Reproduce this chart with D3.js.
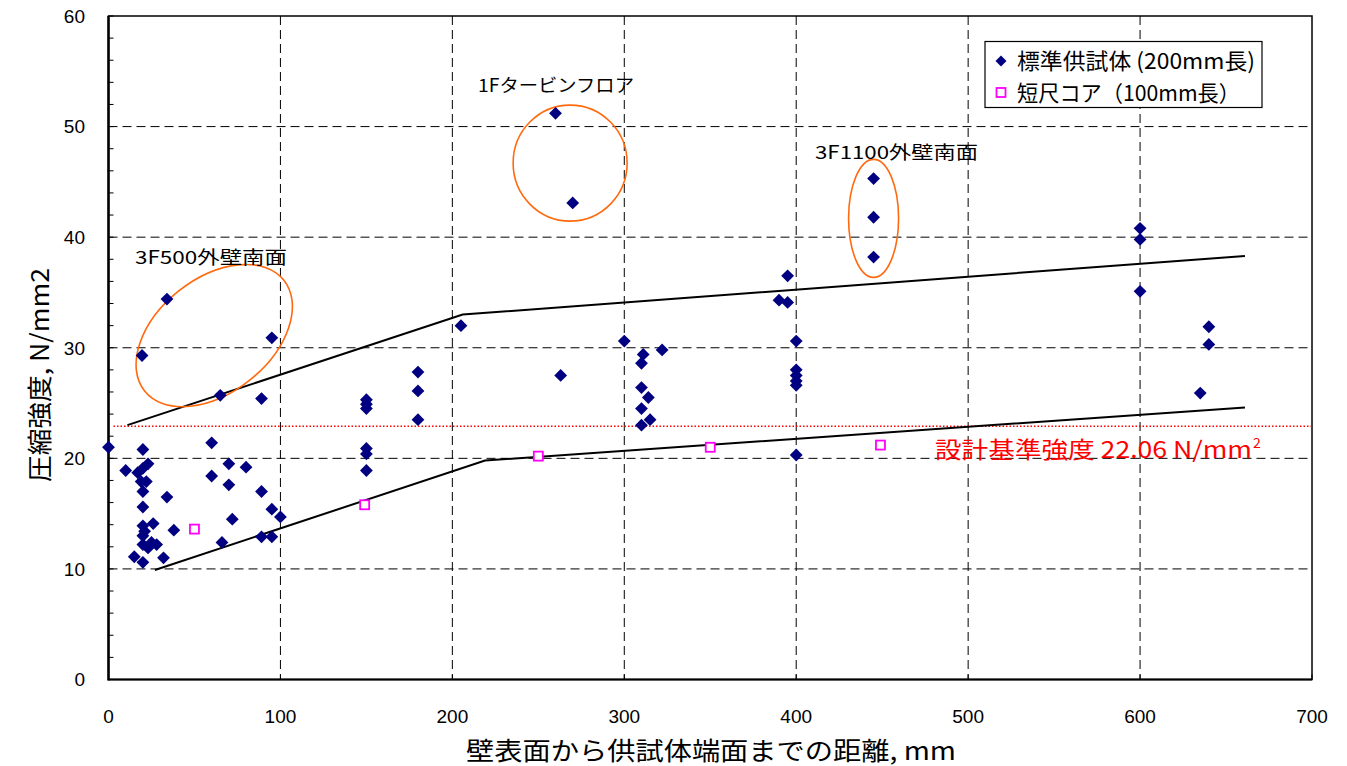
<!DOCTYPE html>
<html><head><meta charset="utf-8">
<script src="https://cdn.jsdelivr.net/npm/d3@7"></script>
<style>
html,body{margin:0;padding:0;background:#fff;}
text{font-family:"Liberation Sans","Noto Sans CJK JP",sans-serif;}
.jp{font-family:"Noto Sans CJK JP","Liberation Sans",sans-serif;}
</style></head>
<body>
<svg id="c" width="1347" height="766"></svg>
<script>
// ---------- data ----------
const xTicks = [0,100,200,300,400,500,600,700];
const yTicks = [0,10,20,30,40,50,60];
const stdX = [0,20,10,17,20,23,19,22,20,20,20,26,21,20,20,23,25,28,15,20,32,34,38,60,60,70,70,80,72,66,89,89,95,95,100,
  34,19.5,95,65,89,
  150,150,150,150,150,150,180,180,180,205,260,270,263,
  300,322,311,310,310,314,310,315,310,
  395,390,395,400,400,400,400,400,400,
  445,445,445,
  600,600,600,640,640,635];
const stdY = [21.0,20.8,18.9,18.7,19.1,19.5,17.9,17.9,17.0,15.6,13.9,14.1,13.4,13.0,12.2,11.9,12.4,12.2,11.1,10.6,11.0,16.5,13.5,21.4,18.4,19.5,17.6,19.2,14.5,12.4,17.0,12.9,12.9,15.4,14.7,
  34.4,29.3,30.9,25.7,25.4,
  25.3,24.9,24.5,20.9,20.4,18.9,27.8,26.1,23.5,32.0,51.2,43.1,27.5,
  30.6,29.8,29.4,28.6,26.4,25.5,24.5,23.5,23.0,
  36.5,34.3,34.1,30.6,28.0,27.5,27.0,26.6,20.3,
  45.3,41.8,38.2,
  40.8,39.8,35.1,31.9,30.3,25.9];
const shortX = [50,149,250,350,449];
const shortY = [13.6,15.8,20.2,21.0,21.2];
const upperX = [11,206,661];
const upperY = [23.0,33.0,38.3];
const lowerX = [27,219,661];
const lowerY = [9.9,19.8,24.6];
const designValue = 22.9;
const designLabel = "設計基準強度 22.06 N/mm";
const seriesNames = ["標準供試体 (200mm長)","短尺コア（100mm長）"];
const groupNames = ["3F500外壁南面","1Fタービンフロア","3F1100外壁南面"];
const groupCx = [61.5,268.5,445];
const groupCy = [31.1,46.7,41.7];

// ---------- layout ----------
const L=108.5, R=1312, T=16, B=679.5;
const svg = d3.select("#c");
const x = d3.scaleLinear().domain([0,700]).range([L,R]);
const y = d3.scaleLinear().domain([0,60]).range([B,T]);

// gridlines
svg.append("g").selectAll("line").data(yTicks.filter(d=>d>0&&d<60)).join("line")
  .attr("x1",L).attr("x2",R).attr("y1",d=>y(d)).attr("y2",d=>y(d))
  .attr("stroke","#000").attr("stroke-width",1).attr("stroke-dasharray","9,5");
svg.append("g").selectAll("line").data(xTicks.filter(d=>d>0&&d<700)).join("line")
  .attr("y1",T).attr("y2",B).attr("x1",d=>x(d)).attr("x2",d=>x(d))
  .attr("stroke","#000").attr("stroke-width",1).attr("stroke-dasharray","9,5");

// minor ticks on y
const minor = d3.range(0,61,2);
svg.append("g").selectAll("line").data(minor).join("line")
  .attr("x1",L).attr("x2",L+5).attr("y1",d=>y(d)).attr("y2",d=>y(d))
  .attr("stroke","#000").attr("stroke-width",1);
svg.append("g").selectAll("line").data(xTicks).join("line")
  .attr("y1",B).attr("y2",B-5).attr("x1",d=>x(d)).attr("x2",d=>x(d))
  .attr("stroke","#000").attr("stroke-width",1);

// frame
svg.append("rect").attr("x",L).attr("y",T).attr("width",R-L).attr("height",B-T)
  .attr("fill","none").attr("stroke","#000").attr("stroke-width",1.5);
svg.append("line").attr("x1",L).attr("x2",L).attr("y1",T).attr("y2",B+1).attr("stroke","#000").attr("stroke-width",2.5);
svg.append("line").attr("x1",L).attr("x2",R).attr("y1",B).attr("y2",B).attr("stroke","#000").attr("stroke-width",2);

// tick labels
svg.append("g").selectAll("text").data(yTicks).join("text")
  .attr("x",85).attr("y",d=>y(d)).attr("dy","0.36em").attr("text-anchor","end")
  .attr("font-size",19).text(d=>d);
svg.append("g").selectAll("text").data(xTicks).join("text")
  .attr("x",d=>x(d)).attr("y",716).attr("dy","0.36em").attr("text-anchor","middle")
  .attr("font-size",19).text(d=>d);

// axis titles
svg.append("text").attr("class","jp").attr("x",466).attr("y",751).attr("dy","0.36em")
  .attr("font-size",25).attr("textLength",490).attr("lengthAdjust","spacingAndGlyphs")
  .text("壁表面から供試体端面までの距離, mm");
svg.append("text").attr("class","jp").attr("transform","translate(40,482) rotate(-90)")
  .attr("dy","0.36em").attr("font-size",25).attr("textLength",214).attr("lengthAdjust","spacingAndGlyphs")
  .text("圧縮強度, N/mm2");

// design strength line
svg.append("line").attr("x1",x(0)+5).attr("x2",R).attr("y1",y(designValue)).attr("y2",y(designValue))
  .attr("stroke","#ff0000").attr("stroke-width",1.3).attr("stroke-dasharray","1.5,2");
const dl = svg.append("text").attr("class","jp").attr("x",935).attr("y",450).attr("dy","0.36em")
  .attr("fill","#ff0000").attr("font-size",23);
dl.append("tspan").text(designLabel).attr("textLength",317).attr("lengthAdjust","spacingAndGlyphs");
dl.append("tspan").text("2").attr("font-size",14).attr("dy","-0.75em").attr("dx","1");

// envelope lines
const line = d3.line().x(d=>x(d[0])).y(d=>y(d[1]));
[[upperX,upperY],[lowerX,lowerY]].forEach(([xs,ys])=>{
  svg.append("path").attr("d",line(xs.map((v,i)=>[v,ys[i]])))
    .attr("fill","none").attr("stroke","#000").attr("stroke-width",2);
});

// ellipses
const ellR = [[89,57,-38.5],[57,58,0],[25,59,0]];
groupCx.forEach((cx,i)=>{
  svg.append("ellipse").attr("transform",`translate(${x(cx)},${y(groupCy[i])}) rotate(${ellR[i][2]})`)
    .attr("rx",ellR[i][0]).attr("ry",ellR[i][1]).attr("fill","none")
    .attr("stroke","#ff6a0f").attr("stroke-width",1.6);
});
// group labels
const glPos = [[135,258,152],[478,86,156],[815,153,163]];
groupNames.forEach((t,i)=>{
  svg.append("text").attr("class","jp").attr("x",glPos[i][0]).attr("y",glPos[i][1]).attr("dy","0.36em")
    .attr("font-size",18).attr("textLength",glPos[i][2]).attr("lengthAdjust","spacingAndGlyphs").text(t);
});

// markers
const diamond = d3.symbol().type(d3.symbolSquare).size(82);
svg.append("g").selectAll("path").data(stdX.map((v,i)=>[v,stdY[i]])).join("path")
  .attr("d",diamond).attr("transform",d=>`translate(${x(d[0])},${y(d[1])}) rotate(45)`)
  .attr("fill","#000080");
svg.append("g").selectAll("rect").data(shortX.map((v,i)=>[v,shortY[i]])).join("rect")
  .attr("x",d=>x(d[0])-4.5).attr("y",d=>y(d[1])-4.5).attr("width",9).attr("height",9)
  .attr("fill","#fff").attr("stroke","#ff00ff").attr("stroke-width",1.8);

// legend
svg.append("rect").attr("x",985).attr("y",41.5).attr("width",277).attr("height",66)
  .attr("fill","#fff").attr("stroke","#000").attr("stroke-width",1.2);
svg.append("path").attr("d",d3.symbol().type(d3.symbolSquare).size(60))
  .attr("transform","translate(1001,61) rotate(45)").attr("fill","#000080");
svg.append("rect").attr("x",996.5).attr("y",88).attr("width",9).attr("height",9)
  .attr("fill","#fff").attr("stroke","#ff00ff").attr("stroke-width",1.8);
svg.append("text").attr("class","jp").attr("x",1017).attr("y",61).attr("dy","0.36em").attr("font-size",22)
  .attr("textLength",238).attr("lengthAdjust","spacingAndGlyphs").text(seriesNames[0]);
svg.append("text").attr("class","jp").attr("x",1017).attr("y",93).attr("dy","0.36em").attr("font-size",22)
  .attr("textLength",223).attr("lengthAdjust","spacingAndGlyphs").text(seriesNames[1]);
</script>
</body></html>
